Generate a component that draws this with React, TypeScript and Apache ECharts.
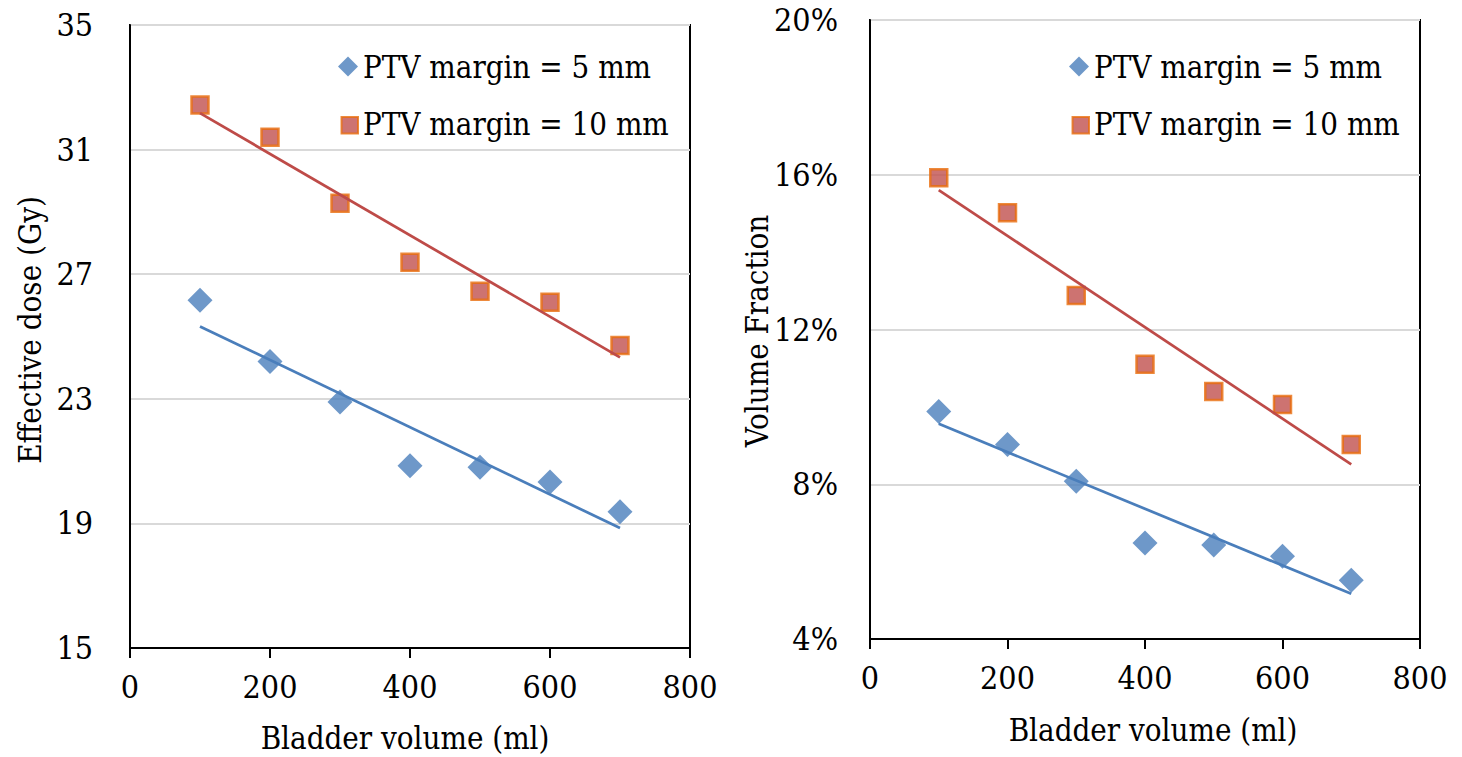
import React, { useEffect, useRef } from "react";
import * as echarts from "echarts";

const bladderVolumes = [100, 200, 300, 400, 500, 600, 700];
const dose5mm = [26.16, 24.2, 22.9, 20.85, 20.8, 20.33, 19.37];
const dose10mm = [32.43, 31.4, 29.28, 27.38, 26.45, 26.1, 24.71];
const frac5mm = [0.0988, 0.0903, 0.0808, 0.0648, 0.0643, 0.0614, 0.0552];
const frac10mm = [0.1592, 0.1502, 0.1288, 0.111, 0.104, 0.1006, 0.0903];

const NAME5 = "PTV margin = 5 mm";
const NAME10 = "PTV margin = 10 mm";
const FONT = "'DejaVu Serif Condensed', 'DejaVu Serif', serif";
const BLUE = "#4A7EBB";
const RED_FILL = "#C0504D";
const ORANGE = "#E96D0C";
const RED_LINE = "#BE4B48";

function pairs(xs: number[], ys: number[]) {
  return xs.map((x, i) => [x, ys[i]]);
}

// Linear least-squares trendline (as in the original spreadsheet chart)
function trend(xs: number[], ys: number[]) {
  const n = xs.length;
  const mx = xs.reduce((a, b) => a + b, 0) / n;
  const my = ys.reduce((a, b) => a + b, 0) / n;
  let sxy = 0;
  let sxx = 0;
  for (let i = 0; i < n; i++) {
    sxy += (xs[i] - mx) * (ys[i] - my);
    sxx += (xs[i] - mx) * (xs[i] - mx);
  }
  const b = sxy / sxx;
  const a = my - b * mx;
  const x0 = xs[0];
  const x1 = xs[n - 1];
  return [
    [x0, a + b * x0],
    [x1, a + b * x1],
  ];
}

export default function App() {
  const ref = useRef<HTMLDivElement>(null);

  useEffect(() => {
    document.body.style.margin = "0";
    if (!ref.current) return;
    const chart = echarts.init(ref.current, null, { renderer: "svg" });

    const axisLine = { show: true, lineStyle: { color: "#000", width: 2 } };
    const splitLine = { show: true, lineStyle: { color: "#D9D9D9", width: 2 } };
    const labelStyle = { fontFamily: FONT, fontSize: 32, color: "#000" };

    const xAxisCommon = {
      type: "value",
      min: 0,
      max: 800,
      interval: 200,
      axisLine,
      axisTick: { show: true, inside: false, length: 10, lineStyle: { color: "#000", width: 2 } },
      splitLine: { show: false },
      axisLabel: { ...labelStyle, margin: 23 },
    };

    const squareIcon = "path://M0,0M3,3h14v14h-14z";
    const diamondIcon = "diamond";

    const legendCommon = {
      orient: "vertical",
      itemWidth: 20,
      itemHeight: 20,
      itemGap: 26,
      textStyle: { fontFamily: FONT, fontSize: 31, color: "#000" },
      data: [
        { name: NAME5, icon: diamondIcon },
        { name: NAME10, icon: squareIcon },
      ],
      selectedMode: false,
    };

    const scatter5 = (xi: number, yi: number, data: number[][]) => ({
      name: NAME5,
      type: "scatter",
      xAxisIndex: xi,
      yAxisIndex: yi,
      symbol: "diamond",
      symbolSize: 25,
      itemStyle: { color: BLUE },
      data,
      z: 2,
    });
    const scatter10 = (xi: number, yi: number, data: number[][]) => ({
      name: NAME10,
      type: "scatter",
      xAxisIndex: xi,
      yAxisIndex: yi,
      symbol: "rect",
      symbolSize: 17,
      itemStyle: { color: RED_FILL, borderColor: ORANGE, borderWidth: 2.5 },
      data,
      z: 2,
    });
    const trendLine = (name: string, xi: number, yi: number, data: number[][], color: string) => ({
      name,
      type: "line",
      xAxisIndex: xi,
      yAxisIndex: yi,
      showSymbol: false,
      symbol: "none",
      lineStyle: { color, width: 2.75 },
      data,
      z: 3,
      silent: true,
    });

    const titleFont = `31px 'DejaVu Serif Condensed', 'DejaVu Serif', serif`;

    chart.setOption({
      animation: false,
      backgroundColor: "#fff",
      grid: [
        { left: 130, top: 25, width: 560, height: 623, show: true, borderColor: "#000", borderWidth: 2, backgroundColor: "transparent" },
        { left: 870, top: 20, width: 550, height: 619, show: true, borderColor: "#000", borderWidth: 2, backgroundColor: "transparent" },
      ],
      xAxis: [
        { ...xAxisCommon, gridIndex: 0 },
        { ...xAxisCommon, gridIndex: 1 },
      ],
      yAxis: [
        {
          type: "value",
          gridIndex: 0,
          min: 15,
          max: 35,
          interval: 4,
          axisLine,
          axisTick: { show: false },
          splitLine,
          axisLabel: { ...labelStyle, margin: 37 },
        },
        {
          type: "value",
          gridIndex: 1,
          min: 0.04,
          max: 0.2,
          interval: 0.04,
          axisLine,
          axisTick: { show: false },
          splitLine,
          axisLabel: {
            ...labelStyle,
            margin: 32,
            formatter: (v: number) => `${Math.round(v * 100)}%`,
          },
        },
      ],
      legend: [
        { ...legendCommon, left: 332, top: 46 },
        { ...legendCommon, left: 1063, top: 46 },
      ],
      graphic: [
        {
          type: "text",
          x: 405,
          y: 738,
          style: { text: "Bladder volume (ml)", font: titleFont, fill: "#000", align: "center", verticalAlign: "middle" },
        },
        {
          type: "text",
          x: 1153,
          y: 730,
          style: { text: "Bladder volume (ml)", font: titleFont, fill: "#000", align: "center", verticalAlign: "middle" },
        },
        {
          type: "text",
          x: 30,
          y: 330,
          rotation: Math.PI / 2,
          style: { text: "Effective dose (Gy)", font: titleFont, fill: "#000", align: "center", verticalAlign: "middle" },
        },
        {
          type: "text",
          x: 757,
          y: 331,
          rotation: Math.PI / 2,
          style: { text: "Volume Fraction", font: titleFont, fill: "#000", align: "center", verticalAlign: "middle" },
        },
      ],
      series: [
        scatter5(0, 0, pairs(bladderVolumes, dose5mm)),
        scatter10(0, 0, pairs(bladderVolumes, dose10mm)),
        trendLine("Linear (5 mm dose)", 0, 0, trend(bladderVolumes, dose5mm), BLUE),
        trendLine("Linear (10 mm dose)", 0, 0, trend(bladderVolumes, dose10mm), RED_LINE),
        scatter5(1, 1, pairs(bladderVolumes, frac5mm)),
        scatter10(1, 1, pairs(bladderVolumes, frac10mm)),
        trendLine("Linear (5 mm fraction)", 1, 1, trend(bladderVolumes, frac5mm), BLUE),
        trendLine("Linear (10 mm fraction)", 1, 1, trend(bladderVolumes, frac10mm), RED_LINE),
      ],
    });

    return () => chart.dispose();
  }, []);

  return <div ref={ref} style={{ width: 1462, height: 757 }} />;
}
